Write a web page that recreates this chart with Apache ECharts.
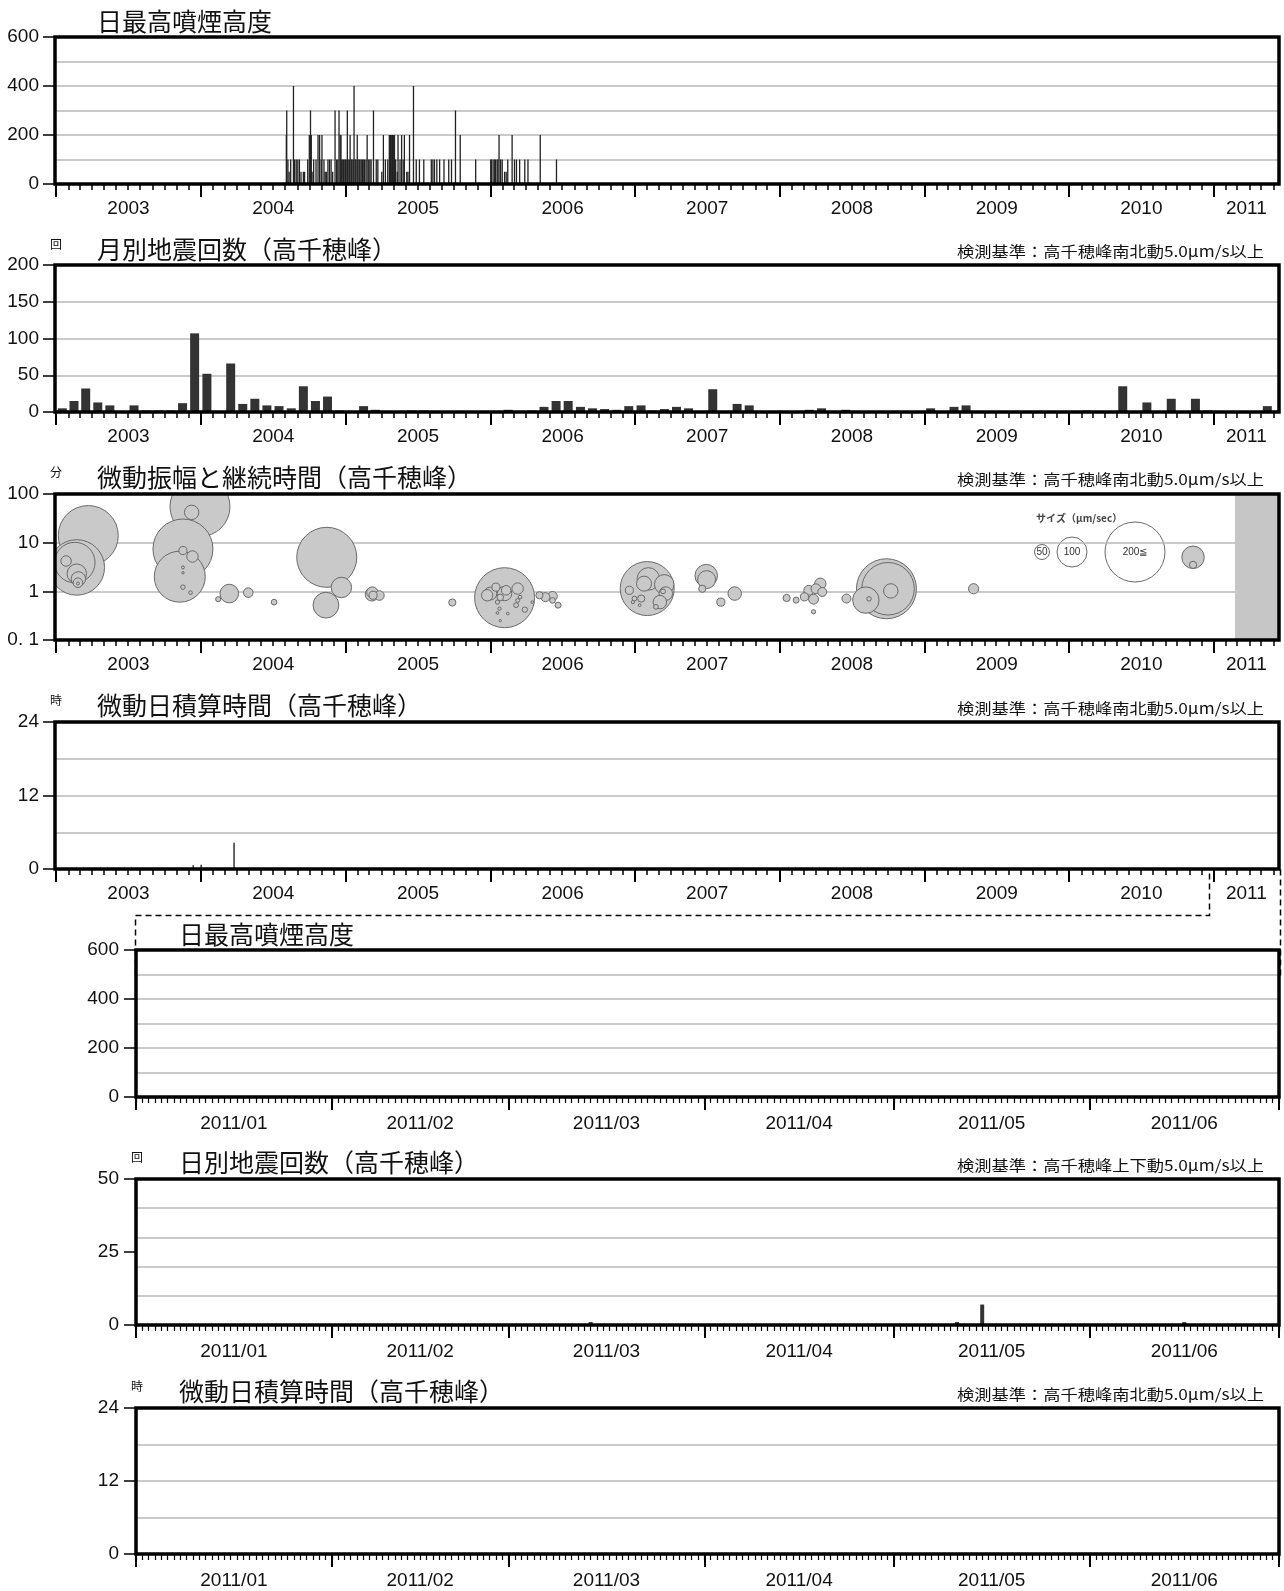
<!DOCTYPE html>
<html>
<head>
<meta charset="utf-8">
<script src="https://cdn.jsdelivr.net/npm/echarts@6/dist/echarts.min.js"></script>
<style>
  html, body { margin: 0; padding: 0; background: #fff; }
  #main { width: 1284px; height: 1591px; }
</style>
</head>
<body>
<div id="main"></div>
<script>
// ---------------- data ----------------
const yearLabels = ['2003', '2004', '2005', '2006', '2007', '2008', '2009', '2010', '2011'];
const monthLabels = ['2011/01', '2011/02', '2011/03', '2011/04', '2011/05', '2011/06'];

// daily maximum plume height (m)
const plumeDates = [
  '2004-08-04','2004-08-05','2004-08-08','2004-08-11','2004-08-15','2004-08-22','2004-08-25','2004-08-29',
  '2004-09-02','2004-09-06','2004-09-10','2004-09-16','2004-09-19','2004-09-27','2004-10-01','2004-10-04',
  '2004-10-06','2004-10-08','2004-10-12','2004-10-18','2004-10-23','2004-10-27','2004-10-31','2004-11-02',
  '2004-11-07','2004-11-10','2004-11-13','2004-11-17','2004-11-21','2004-11-25','2004-11-29','2004-12-05',
  '2004-12-09','2004-12-12','2004-12-15','2004-12-18','2004-12-20','2004-12-21','2004-12-23','2004-12-26',
  '2004-12-28','2004-12-31','2005-01-02','2005-01-05','2005-01-07','2005-01-10','2005-01-12','2005-01-15',
  '2005-01-17','2005-01-20','2005-01-22','2005-01-25','2005-01-27','2005-01-30','2005-02-01','2005-02-04',
  '2005-02-06','2005-02-09','2005-02-12','2005-02-14','2005-02-17','2005-02-21','2005-02-24','2005-02-28',
  '2005-03-03','2005-03-06','2005-03-12','2005-03-19','2005-03-23','2005-04-02','2005-04-06','2005-04-11',
  '2005-04-17','2005-04-21','2005-04-24','2005-04-26','2005-04-29','2005-05-02','2005-05-04','2005-05-07',
  '2005-05-11','2005-05-13','2005-05-18','2005-05-22','2005-05-26','2005-05-29','2005-06-04','2005-06-07',
  '2005-06-11','2005-06-21','2005-06-28','2005-07-06','2005-07-17','2005-08-05','2005-08-09','2005-08-13',
  '2005-08-19','2005-08-26','2005-09-06','2005-09-18','2005-09-25','2005-10-05','2005-10-17','2005-11-25',
  '2006-01-02','2006-01-04','2006-01-08','2006-01-12','2006-01-14','2006-01-18','2006-01-20','2006-01-23',
  '2006-01-27','2006-01-31','2006-02-06','2006-02-10','2006-02-14','2006-02-25','2006-03-03','2006-03-08',
  '2006-03-16','2006-03-29','2006-04-06','2006-05-07','2006-06-17'
];
const plumeHeights = [
  200,300,100,50,100,400,100,100,
  100,100,50,50,50,100,200,300,
  200,50,100,100,200,200,100,200,
  100,50,50,100,100,100,50,300,
  100,100,300,200,200,100,100,100,
  100,100,100,300,100,100,200,100,
  100,100,400,100,100,200,100,100,
  100,100,100,100,100,100,200,100,
  100,100,300,100,100,50,200,100,
  100,200,200,200,200,200,200,100,
  50,200,100,200,100,200,50,50,
  200,400,100,100,100,100,100,100,
  100,100,100,100,100,300,200,100,
  100,100,100,100,100,100,100,200,
  100,100,50,50,100,200,100,100,
  100,100,100,200,100
];

// monthly earthquake counts, Jan 2003 - Jun 2011
const quakeFirstYear = 2003;
const monthlyQuakes = [
  5, 15, 32, 13, 9, 0, 9, 2, 2, 2, 12, 107,      // 2003
  52, 0, 66, 11, 18, 9, 8, 5, 35, 15, 21, 2,      // 2004
  1, 8, 3, 0, 0, 2, 2, 0, 0, 0, 0, 0,             // 2005
  0, 3, 0, 2, 7, 15, 15, 7, 5, 4, 3, 8,           // 2006
  9, 2, 4, 7, 5, 0, 31, 0, 11, 9, 0, 0,           // 2007
  0, 0, 3, 5, 0, 3, 0, 0, 0, 0, 0, 0,             // 2008
  5, 0, 7, 9, 0, 0, 0, 0, 0, 0, 0, 0,             // 2009
  0, 2, 0, 0, 35, 0, 13, 0, 18, 0, 18, 2,         // 2010
  0, 0, 0, 0, 8, 0                                // 2011
];

// tremor events: date, duration (min), amplitude (um/s)
const tremorDates = [
  '2003-03-23','2003-02-22','2003-02-17','2003-01-26','2003-02-22','2003-02-26','2003-02-25','2003-02-25',
  '2003-11-17','2003-11-09','2003-11-17','2003-12-11','2003-11-17','2003-11-17','2003-11-17','2003-12-06',
  '2003-12-30','2003-12-09',
  '2004-02-14','2004-03-13','2004-04-30','2004-07-04','2004-11-14','2004-11-12','2004-12-21',
  '2005-03-08','2005-03-09','2005-03-11','2005-03-27','2005-09-27',
  '2006-02-06','2005-12-24','2006-01-15','2006-02-10','2006-03-11','2006-01-26','2006-01-19','2006-01-24',
  '2006-01-19','2006-02-14','2006-01-26','2006-03-11','2006-03-29','2006-03-07','2006-03-17','2006-04-17',
  '2006-02-06','2006-01-01','2006-05-05','2006-05-20','2006-06-07','2006-06-07','2006-06-21',
  '2007-02-01','2007-02-04','2007-01-24','2007-03-16','2007-03-20','2007-03-05','2006-12-18','2007-01-17',
  '2006-12-31','2006-12-27','2007-01-13','2007-02-23','2007-03-13',
  '2007-06-30','2007-07-01','2007-06-20','2007-09-10','2007-08-06',
  '2008-01-19','2008-02-12','2008-03-04','2008-03-15','2008-03-27','2008-04-02','2008-04-13','2008-04-18',
  '2008-03-27','2008-06-18','2008-08-06','2008-08-14','2008-09-27','2008-10-01','2008-10-08',
  '2009-05-05','2010-11-10','2010-11-10'
];
const tremorMinutes = [
  14, 3.1, 3.9, 4.2, 2.3, 1.8, 1.5, 1.45,
  7.4, 2.0, 6.9, 5.2, 3.1, 2.4, 1.22, 0.94,
  55, 42,
  0.69, 0.9, 0.94, 0.6, 5.0, 0.52, 1.2,
  0.87, 0.95, 0.83, 0.82, 0.59,
  0.74, 0.83, 1.22, 1.05, 1.14, 0.75, 0.6, 0.44,
  0.36, 0.35, 0.25, 0.65, 0.42, 0.52, 0.76, 0.6,
  0.9, 0.9, 0.83, 0.76, 0.79, 0.65, 0.52,
  1.14, 1.8, 1.44, 1.39, 0.9, 0.6, 1.05, 0.71,
  0.71, 0.6, 0.52, 0.48, 1.0,
  2.1, 1.74, 1.13, 0.9, 0.6,
  0.73, 0.66, 0.77, 1.05, 0.69, 1.13, 1.43, 0.97,
  0.38, 0.71, 0.66, 0.7, 1.13, 1.13, 1.02,
  1.13, 5.0, 3.5
];
const tremorAmplitudes = [
  250, 185, 135, 35, 65, 48, 32, 10,
  230, 170, 27, 38, 10, 8, 15, 12,
  250, 48,
  17, 62, 32, 19, 240, 86, 68,
  45, 37, 27, 32, 24,
  250, 38, 27, 32, 38, 22, 14, 11,
  9, 9, 8, 13, 18, 16, 12, 9,
  48, 43, 24, 30, 32, 19, 20,
  180, 75, 50, 65, 45, 45, 27, 24,
  16, 11, 9, 16, 16,
  75, 60, 24, 45, 27,
  24, 20, 27, 33, 33, 33, 38, 30,
  14, 30, 88, 15, 250, 175, 48,
  34, 75, 24
];
const noDataFrom = '2011-02-24';

// daily cumulative tremor time (h), 2003-2011
const tremorHourDates = ['2003-12-13', '2004-01-02', '2004-03-25'];
const tremorHours = [0.6, 0.7, 4.3];

// 2011 detail panels
const plume2011Dates = [];
const plume2011Heights = [];
const dailyQuakeDates = ['2011-03-14', '2011-05-11', '2011-05-15', '2011-06-16'];
const dailyQuakes = [1, 1, 7, 1];
const tremorHour2011Dates = [];
const tremorHours2011 = [];

const bubbleLegendValues = [50, 100, 200];

// ---------------- helpers ----------------
const DAY = 86400000;
function ts(s) {
  const p = s.split(/[-\/]/).map(Number);
  return Date.UTC(p[0], (p[1] || 1) - 1, p[2] || 1);
}
const pairs = (dates, vals) => dates.map((d, i) => [ts(d), vals[i]]);
const sizeOf = amp => amp >= 200 ? 60 : amp * 0.3;

const NUM_FONT = "'Liberation Sans Narrow','Liberation Sans',Arial,sans-serif";
const JP_FONT = "'Noto Sans CJK JP','Noto Sans CJK SC',sans-serif";
const NUM_SIZE = 19;

const longMin = ts('2002-12-29'), longMax = ts('2011-06-15');
const shortMin = ts('2011-01-01'), shortMax = ts('2011-07-01');

const yearStarts = yearLabels.map(y => ts(y + '-01-01'));
const yearMids = yearLabels.map((y, i) => {
  const a = Math.max(yearStarts[i], longMin);
  const b = Math.min(Date.UTC(+y + 1, 0, 1), longMax);
  return (a + b) / 2;
});
const monthTicksLong = [];
yearLabels.forEach(y => {
  for (let m = 0; m < 12; m++) {
    const t = Date.UTC(+y, m, 1);
    if (t > longMin && t < longMax) monthTicksLong.push(t);
  }
});
const monthStarts = monthLabels.map(m => ts(m));
const monthMids = monthStarts.map((t, i) => (t + (i + 1 < monthStarts.length ? monthStarts[i + 1] : shortMax)) / 2);
const dayTicks = [];
for (let t = shortMin; t <= shortMax; t += DAY) dayTicks.push(t);

function nearestLabel(positions, labels) {
  return v => {
    let best = 0;
    positions.forEach((p, i) => { if (Math.abs(p - v) < Math.abs(positions[best] - v)) best = i; });
    return labels[best];
  };
}

// ---------------- layout ----------------
const grids = [
  { left: 55,  top: 37,   width: 1224, height: 147 },
  { left: 55,  top: 265,  width: 1224, height: 147 },
  { left: 55,  top: 494,  width: 1224, height: 146 },
  { left: 55,  top: 722,  width: 1224, height: 147 },
  { left: 136, top: 950,  width: 1143, height: 147 },
  { left: 136, top: 1179, width: 1143, height: 146 },
  { left: 136, top: 1408, width: 1143, height: 146 }
].map(g => Object.assign({ show: true, borderColor: '#000', borderWidth: 3.5, backgroundColor: 'transparent', z: 5 }, g));

// time runs on a plain value axis (UTC milliseconds) so tick positions can be given exactly
function xAxesFor(gi, long) {
  const base = {
    type: 'value', gridIndex: gi, position: 'bottom', scale: true,
    min: long ? longMin : shortMin, max: long ? longMax : shortMax,
    axisLine: { show: false }, splitLine: { show: false }, axisPointer: { show: false }
  };
  return [
    Object.assign({}, base, {
      axisTick: { show: true, customValues: long ? yearStarts : monthStarts.concat([shortMax]), length: 13,
                  lineStyle: { color: '#000', width: 2 } },
      axisLabel: {
        show: true, customValues: long ? yearMids : monthMids,
        formatter: long ? nearestLabel(yearMids, yearLabels) : nearestLabel(monthMids, monthLabels),
        margin: long ? 15 : 17, fontFamily: NUM_FONT, fontSize: NUM_SIZE, color: '#111'
      }
    }),
    Object.assign({}, base, {
      axisTick: { show: true, customValues: long ? monthTicksLong : dayTicks, length: 6,
                  lineStyle: { color: '#000', width: long ? 1.5 : 1.2 } },
      axisLabel: { show: false }
    })
  ];
}

const gridLine = { show: true, showMinLine: false, showMaxLine: false, lineStyle: { color: '#b8b8b8', width: 1.5 } };
function yAxesFor(gi, max, labelStep, lineStep, leftMargin) {
  return [
    {
      type: 'value', gridIndex: gi, position: 'left', min: 0, max: max, interval: labelStep,
      axisLine: { show: false },
      axisTick: { show: true, length: 12, lineStyle: { color: '#000', width: 1.5 } },
      axisLabel: { margin: leftMargin, fontFamily: NUM_FONT, fontSize: NUM_SIZE, color: '#111' },
      splitLine: { show: false }
    },
    {
      type: 'value', gridIndex: gi, position: 'left', min: 0, max: max, interval: lineStep,
      axisLine: { show: false }, axisTick: { show: false }, axisLabel: { show: false },
      splitLine: gridLine
    }
  ];
}
function logYAxesFor(gi) {
  return [
    {
      type: 'log', logBase: 10, gridIndex: gi, position: 'left', min: 0.1, max: 100,
      axisLine: { show: false },
      axisTick: { show: true, length: 12, lineStyle: { color: '#000', width: 1.5 } },
      axisLabel: {
        margin: 16, fontFamily: NUM_FONT, fontSize: NUM_SIZE, color: '#111',
        formatter: v => (Math.round(v * 10) / 10 === 0.1 ? '0. 1' : String(Math.round(v)))
      },
      splitLine: gridLine
    },
    {
      type: 'log', logBase: 10, gridIndex: gi, position: 'left', min: 0.1, max: 100,
      axisLine: { show: false }, axisTick: { show: false }, axisLabel: { show: false },
      splitLine: { show: false }
    }
  ];
}

const xAxis = [].concat(
  xAxesFor(0, true), xAxesFor(1, true), xAxesFor(2, true), xAxesFor(3, true),
  xAxesFor(4, false), xAxesFor(5, false), xAxesFor(6, false)
);
const yAxis = [].concat(
  yAxesFor(0, 600, 200, 100, 16),
  yAxesFor(1, 200, 50, 50, 16),
  logYAxesFor(2),
  yAxesFor(3, 24, 12, 6, 16),
  yAxesFor(4, 600, 200, 100, 17),
  yAxesFor(5, 50, 25, 10, 17),
  yAxesFor(6, 24, 12, 6, 17)
);

// monthly bars sit in the middle of their month
const monthlyData = monthlyQuakes.map((v, i) => {
  const y = quakeFirstYear + Math.floor(i / 12), m = i % 12;
  return [(Date.UTC(y, m, 1) + Date.UTC(y, m + 1, 1)) / 2, v];
});

// bubbles: larger first so smaller ones stay visible on top
const bubbleData = tremorDates
  .map((d, i) => [ts(d), tremorMinutes[i], tremorAmplitudes[i]])
  .sort((a, b) => b[2] - a[2]);

function barSeries(gi, data, width, color) {
  return {
    type: 'bar', xAxisIndex: gi * 2, yAxisIndex: gi * 2, data: data,
    barWidth: width, itemStyle: { color: color || '#2d2d2d' }, silent: true
  };
}

const series = [
  barSeries(0, pairs(plumeDates, plumeHeights), 1.3, '#222'),
  barSeries(1, monthlyData, 9, '#333'),
  {
    // bubbles are drawn as a custom series so that they are cut off at the frame
    type: 'custom', xAxisIndex: 4, yAxisIndex: 4, data: bubbleData, clip: true, silent: true,
    encode: { x: 0, y: 1 },
    renderItem: (params, api) => {
      const p = api.coord([api.value(0), api.value(1)]);
      return {
        type: 'circle',
        shape: { cx: p[0], cy: p[1], r: sizeOf(api.value(2)) / 2 },
        style: { fill: '#c9c9c9', stroke: '#6a6a6a', lineWidth: 1 }
      };
    },
    markArea: {
      silent: true,
      itemStyle: { color: '#c6c6c6', borderWidth: 0 },
      data: [[{ xAxis: ts(noDataFrom) }, { xAxis: longMax }]]
    }
  },
  barSeries(3, pairs(tremorHourDates, tremorHours), 1.5, '#333'),
  barSeries(4, pairs(plume2011Dates, plume2011Heights), 2, '#333'),
  barSeries(5, pairs(dailyQuakeDates, dailyQuakes), 4, '#333'),
  barSeries(6, pairs(tremorHour2011Dates, tremorHours2011), 2, '#333')
];

// ---------------- text ----------------
function title(text, x, y) {
  return { type: 'text', x: x, y: y, silent: true,
    style: { text: text, font: '25px ' + JP_FONT, fill: '#111', textAlign: 'left', textVerticalAlign: 'middle' } };
}
function unit(text, x, y) {
  return { type: 'text', x: x, y: y, silent: true,
    style: { text: text, font: '12px ' + JP_FONT, fill: '#111', textAlign: 'center', textVerticalAlign: 'middle' } };
}
function note(text, y) {
  return { type: 'text', x: 1264, y: y, scaleX: 1.15, originX: 0, silent: true,
    style: { text: text, font: '15px ' + JP_FONT, fill: '#111', textAlign: 'right', textVerticalAlign: 'middle' } };
}
const noteNS = '検測基準：高千穂峰南北動5.0μm/s以上';
const noteUD = '検測基準：高千穂峰上下動5.0μm/s以上';

const legendX = [1042, 1072, 1135], legendY = 552;
const legendEls = [
  { type: 'text', x: 1036, y: 518, silent: true,
    style: { text: 'サイズ（μm/sec）', font: 'bold 10px ' + JP_FONT, fill: '#444', textAlign: 'left', textVerticalAlign: 'middle' } }
];
bubbleLegendValues.forEach((v, i) => {
  legendEls.push({ type: 'circle', silent: true, shape: { cx: legendX[i], cy: legendY, r: sizeOf(v) / 2 },
    style: { fill: '#fff', stroke: '#6a6a6a', lineWidth: 1 } });
  legendEls.push({ type: 'text', x: legendX[i], y: legendY, silent: true,
    style: { text: v >= 200 ? v + '≦' : String(v), font: '10px ' + NUM_FONT, fill: '#333', textAlign: 'center', textVerticalAlign: 'middle' } });
});

const staticGraphics = [
  title('日最高噴煙高度', 97, 21),
  unit('回', 56, 244), title('月別地震回数（高千穂峰）', 97, 249), note(noteNS, 251),
  unit('分', 56, 472), title('微動振幅と継続時間（高千穂峰）', 97, 477), note(noteNS, 479),
  unit('時', 56, 700), title('微動日積算時間（高千穂峰）', 97, 705), note(noteNS, 708),
  title('日最高噴煙高度', 179, 934),
  unit('回', 137, 1157), title('日別地震回数（高千穂峰）', 179, 1162), note(noteUD, 1165),
  unit('時', 137, 1386), title('微動日積算時間（高千穂峰）', 179, 1391), note(noteNS, 1394)
].concat(legendEls);

const chart = echarts.init(document.getElementById('main'), null, { renderer: 'canvas' });
chart.setOption({
  animation: false,
  backgroundColor: '#fff',
  grid: grids,
  xAxis: xAxis,
  yAxis: yAxis,
  series: series,
  graphic: { elements: staticGraphics }
});

// dashed frame linking the 2011 part of the long record to the detail panels
const snap = v => Math.round(v) + 0.5;
const xJoin = snap(chart.convertToPixel({ xAxisIndex: 6 }, ts('2010-12-20')));
const xRight = snap(chart.convertToPixel({ xAxisIndex: 6 }, longMax) + 1);
const xLeft = snap(chart.convertToPixel({ xAxisIndex: 8 }, shortMin) - 1);
const yTop = snap(chart.convertToPixel({ yAxisIndex: 6 }, 0));
const yMid = yTop + 46;
const yLow = snap(chart.convertToPixel({ yAxisIndex: 8 }, 500));
const dash = { stroke: '#000', lineWidth: 1.5, lineDash: [6, 4], fill: null };
chart.setOption({
  graphic: {
    elements: staticGraphics.concat([
      { type: 'polyline', silent: true, z: 10, shape: { points: [[xLeft, yLow], [xLeft, yMid], [xJoin, yMid], [xJoin, yTop]] }, style: dash },
      { type: 'polyline', silent: true, z: 10, shape: { points: [[xRight, yTop], [xRight, yLow]] }, style: dash }
    ])
  }
});
</script>
</body>
</html>
